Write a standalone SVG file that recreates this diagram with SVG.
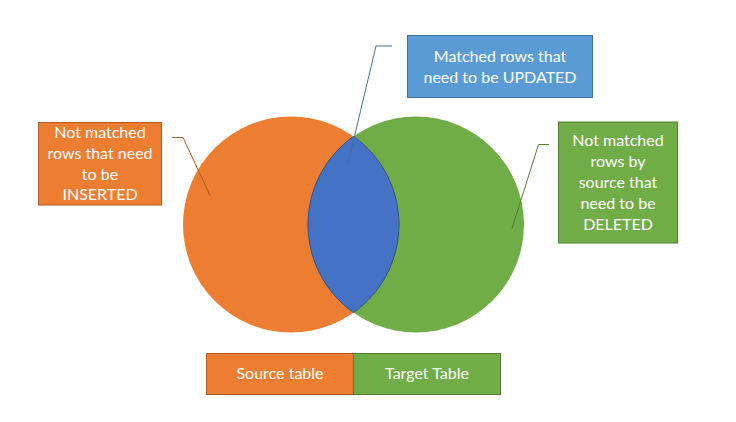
<svg xmlns="http://www.w3.org/2000/svg" width="736" height="422" viewBox="0 0 736 422">
<style>
text{font-family:Lato,"Open Sans","Liberation Sans",sans-serif;font-size:16px;fill:#fff;text-anchor:middle}
.co{fill:none;stroke-width:1}
</style>
<rect width="736" height="422" fill="#fff"/>
<g id="source-circle"><circle cx="291" cy="224.5" r="108" fill="#ED7D31"/></g>
<g id="target-circle"><circle cx="416" cy="224.5" r="108" fill="#70AD47"/></g>
<g id="intersection"><path d="M353.5 136.4 A108 108 0 0 1 353.5 312.6 A108 108 0 0 1 353.5 136.4 Z" fill="#4472C4" stroke="#2F528F" stroke-width="1"/></g>
<g id="connectors">
<polyline class="co" points="172,137.5 183,137.5 210,195.5" stroke="#AE5A21"/>
<polyline class="co" points="392,46 376,46 348,163.5" stroke="#41719C"/>
<polyline class="co" points="549,144.5 538.5,144.5 512,228.5" stroke="#507E32"/>
</g>
<g id="insert-label">
<rect x="38.5" y="122.5" width="123" height="82.5" fill="#ED7D31" stroke="#AE5A21"/>
<text x="100" y="137.5">Not matched</text>
<text x="100" y="158.5">rows that need</text>
<text x="100" y="179.5">to be</text>
<text x="100" y="200">INSERTED</text>
</g>
<g id="update-label">
<rect x="407.5" y="35.5" width="185" height="62" fill="#5B9BD5" stroke="#41719C"/>
<text x="500" y="62">Matched rows that</text>
<text x="500" y="83">need to be UPDATED</text>
</g>
<g id="delete-label">
<rect x="558.5" y="122" width="119" height="121" fill="#70AD47" stroke="#507E32"/>
<text x="618" y="146">Not matched</text>
<text x="618" y="167">rows by</text>
<text x="618" y="188">source that</text>
<text x="618" y="209">need to be</text>
<text x="618" y="230">DELETED</text>
</g>
<g id="source-legend">
<rect x="206.5" y="353.5" width="147" height="41" fill="#ED7D31" stroke="#AE5A21"/>
<text x="280" y="379">Source table</text>
</g>
<g id="target-legend">
<rect x="353.5" y="353.5" width="147" height="41" fill="#70AD47" stroke="#507E32"/>
<text x="427" y="379">Target Table</text>
</g>
</svg>
